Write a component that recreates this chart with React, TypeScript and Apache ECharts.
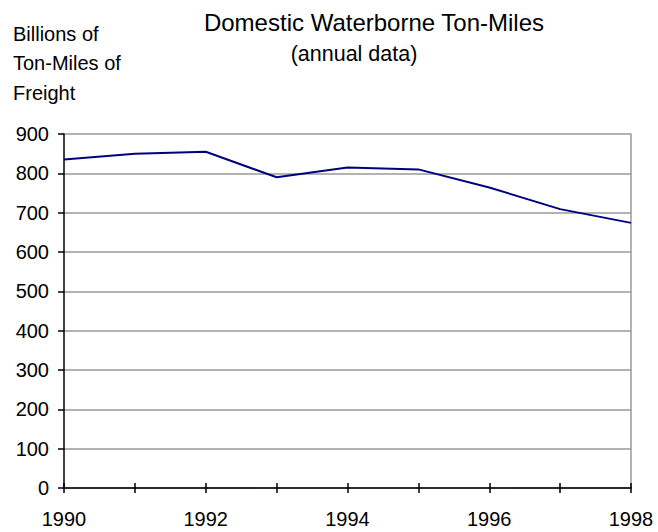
import React, { useEffect, useRef } from "react";
import * as echarts from "echarts";

const years = [1990, 1991, 1992, 1993, 1994, 1995, 1996, 1997, 1998];
const tonMiles = [835, 850, 855, 790, 815, 810, 764, 709, 674];
const titleText = "Domestic Waterborne Ton-Miles";
const subtitleText = "(annual data)";
const yNameLines = ["Billions of", "Ton-Miles of", "Freight"];

const FONT = "'Liberation Sans', Arial, sans-serif";

export default function App() {
  const ref = useRef<HTMLDivElement>(null);
  useEffect(() => {
    if (!ref.current) return;
    const chart = echarts.init(ref.current, null, { renderer: "svg" });
    const data = years.map((y, i) => [y, tonMiles[i]]);
    chart.setOption({
      animation: false,
      backgroundColor: "#ffffff",
      textStyle: { fontFamily: FONT },
      grid: { left: 64, right: 27, top: 134, bottom: 44, containLabel: false },
      graphic: [
        {
          type: "text",
          x: 374,
          y: 22,
          style: {
            text: titleText,
            fontSize: 24,
            fontFamily: FONT,
            fill: "#000",
            align: "center",
            verticalAlign: "middle",
          },
        },
        {
          type: "text",
          x: 354,
          y: 54,
          style: {
            text: subtitleText,
            fontSize: 21.5,
            fontFamily: FONT,
            fill: "#000",
            align: "center",
            verticalAlign: "middle",
          },
        },
        ...yNameLines.map((t, i) => ({
          type: "text",
          x: 13,
          y: 34 + i * 29.3,
          style: {
            text: t,
            fontSize: 20,
            fontFamily: FONT,
            fill: "#000",
            align: "left",
            verticalAlign: "middle",
          },
        })),
      ],
      xAxis: [
        {
          type: "value",
          min: 1990,
          max: 1998,
          interval: 1,
          position: "bottom",
          axisLine: { show: true, onZero: false, lineStyle: { color: "#000", width: 1.5 } },
          axisTick: { show: true, inside: false, length: 5, lineStyle: { color: "#000", width: 1.5 } },
          axisLabel: {
            show: true,
            margin: 21,
            fontSize: 20,
            color: "#000",
            fontFamily: FONT,
            formatter: (v: number) => (v % 2 === 0 ? String(v) : ""),
          },
          splitLine: { show: false },
        },
        {
          type: "value",
          min: 1990,
          max: 1998,
          interval: 1,
          position: "bottom",
          axisLine: { show: false, onZero: false },
          axisTick: { show: true, inside: true, length: 5, lineStyle: { color: "#000", width: 1.5 } },
          axisLabel: { show: false },
          splitLine: { show: false },
        },
      ],
      yAxis: [
        {
          type: "value",
          min: 0,
          max: 900,
          interval: 100,
          position: "left",
          axisLine: { show: true, lineStyle: { color: "#000", width: 1.5 } },
          axisTick: { show: true, inside: false, length: 6, lineStyle: { color: "#000", width: 1.5 } },
          axisLabel: { show: true, margin: 15, fontSize: 20, color: "#000", fontFamily: FONT },
          splitLine: { show: true, lineStyle: { color: "#999999", width: 1.5 } },
        },
        {
          type: "value",
          min: 0,
          max: 900,
          interval: 100,
          position: "right",
          axisLine: { show: true, lineStyle: { color: "#999999", width: 1.5 } },
          axisTick: { show: false },
          axisLabel: { show: false },
          splitLine: { show: false },
        },
      ],
      series: [
        {
          type: "line",
          xAxisIndex: 0,
          yAxisIndex: 0,
          data,
          showSymbol: false,
          symbol: "none",
          lineStyle: { color: "#000080", width: 2 },
          z: 5,
        },
      ],
    });
    return () => chart.dispose();
  }, []);
  return (
    <div
      ref={ref}
      style={{ position: "absolute", left: 0, top: 0, width: 658, height: 532 }}
    />
  );
}
